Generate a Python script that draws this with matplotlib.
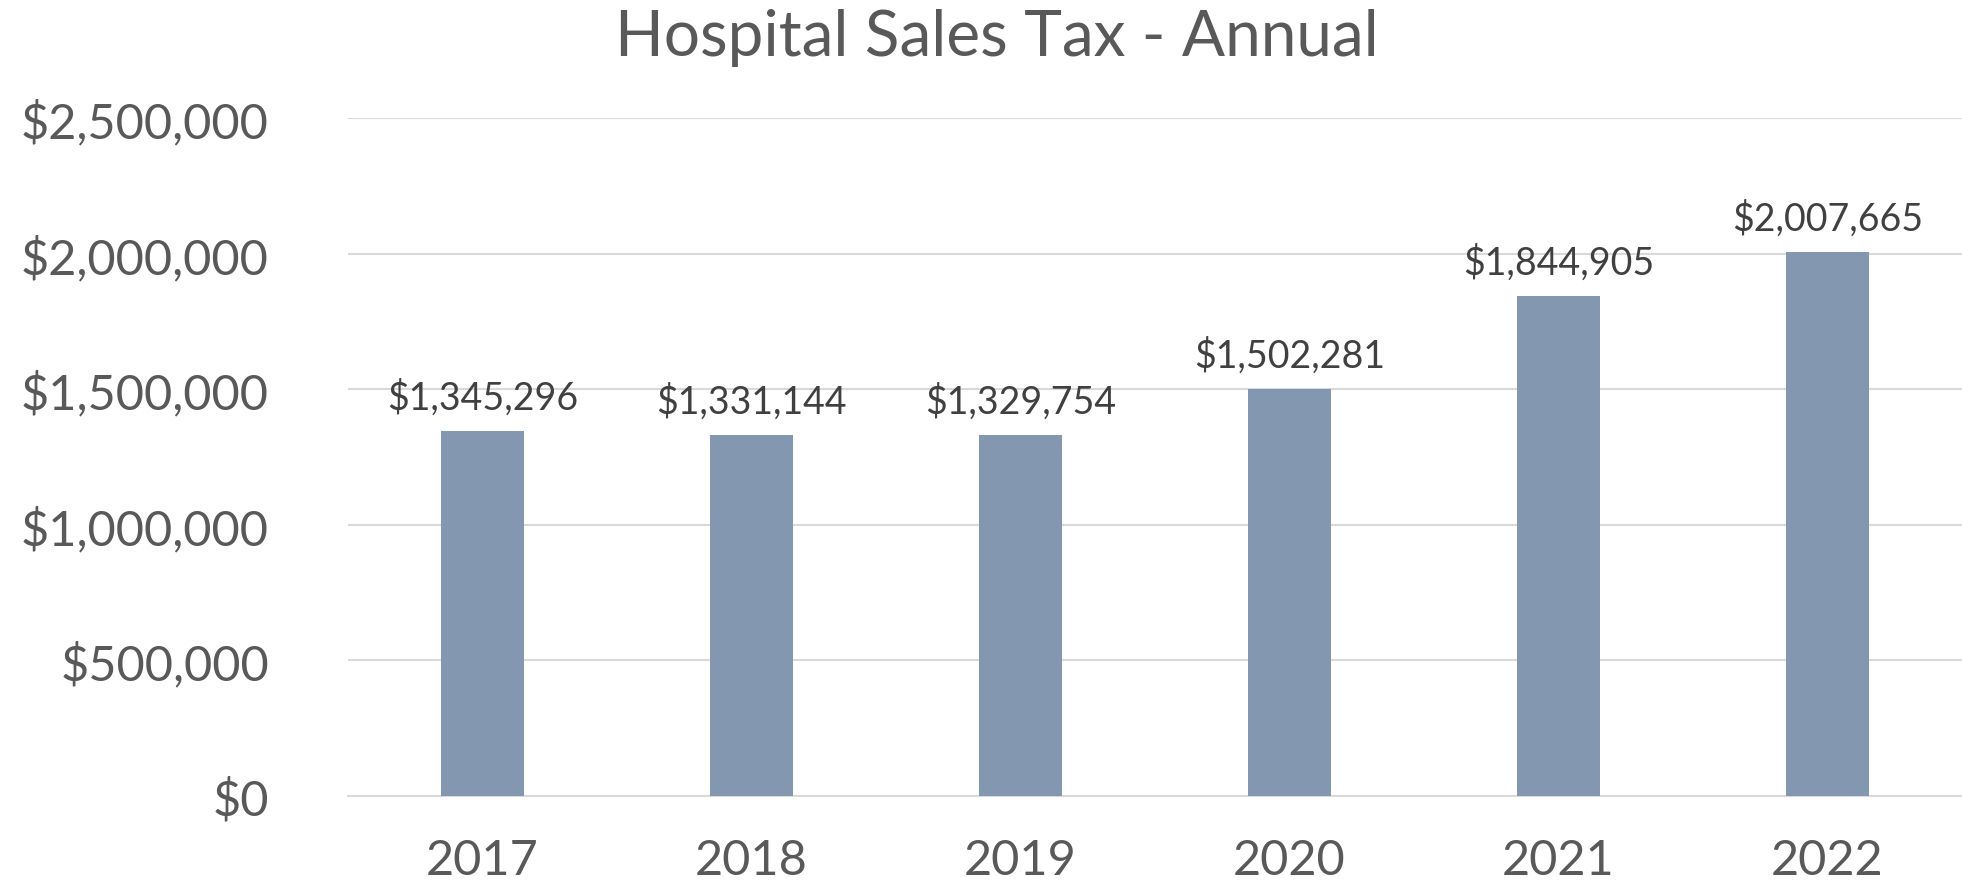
import numpy as np
import matplotlib
matplotlib.use('Agg')
import matplotlib.pyplot as plt
from matplotlib.ticker import FuncFormatter

# Datos del gráfico
anios = ['2017', '2018', '2019', '2020', '2021', '2022']
ventas = [1345296, 1331144, 1329754, 1502281, 1844905, 2007665]
y_ticks = [0, 500000, 1000000, 1500000, 2000000, 2500000]

plt.rcParams['font.family'] = ['Lato', 'DejaVu Sans']

fig = plt.figure(figsize=(19.62, 8.87), dpi=100)
ax = fig.add_axes([0.1774, 0.1015, 0.8226, 0.7643])

x = np.arange(len(anios))
ax.bar(x, ventas, width=0.31, color='#8497B0', zorder=3)

ax.set_xlim(-0.5, len(anios) - 0.5)
ax.set_ylim(0, 2500000)
ax.set_yticks(y_ticks)
ax.yaxis.set_major_formatter(FuncFormatter(lambda v, p: '${:,.0f}'.format(v)))
ax.set_xticks(x)
ax.set_xticklabels(anios)

ax.grid(axis='y', color='#D9D9D9', linewidth=1.5, zorder=0)
for s in ['top', 'right', 'left']:
    ax.spines[s].set_visible(False)
ax.spines['bottom'].set_color('#D9D9D9')
ax.spines['bottom'].set_linewidth(1.5)
ax.tick_params(axis='both', length=0, labelsize=35, colors='#595959')
ax.tick_params(axis='y', pad=57)
ax.tick_params(axis='x', pad=30)

# Etiquetas de datos
for xi, v in zip(x, ventas):
    ax.annotate('${:,.0f}'.format(v), (xi, v), xytext=(0, 11),
                textcoords='offset points', ha='center', va='bottom',
                fontsize=27, color='#404040')

fig.text(0.508, 0.99, 'Hospital Sales Tax - Annual', ha='center', va='top',
         fontsize=46, color='#595959')

fig.savefig('out.png', dpi=100)
